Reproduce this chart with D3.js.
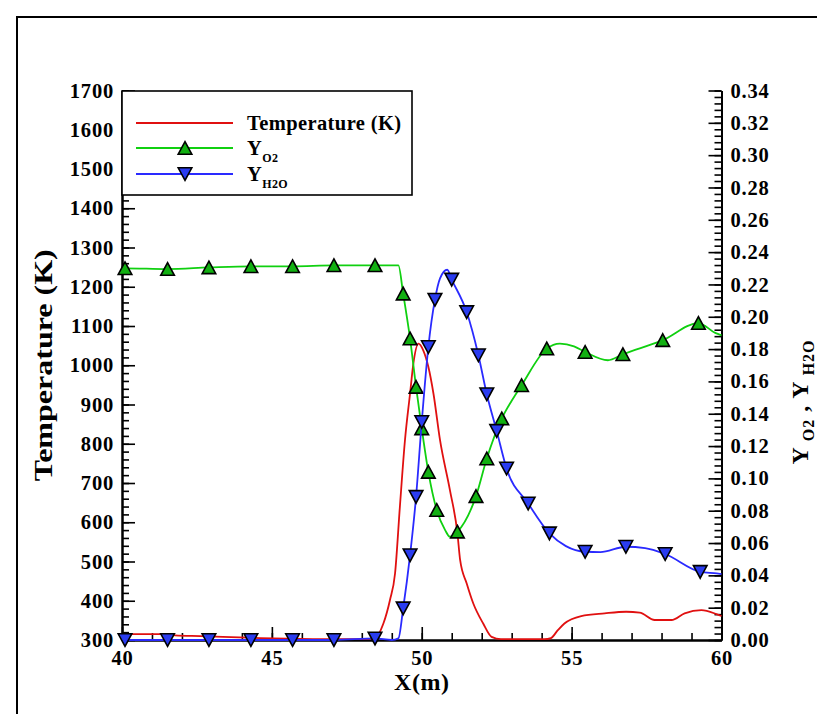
<!DOCTYPE html>
<html>
<head>
<meta charset="utf-8">
<script src="https://cdn.jsdelivr.net/npm/d3@7/dist/d3.min.js"></script>
<style>
  html, body { margin: 0; padding: 0; background: #ffffff; }
  svg { display: block; }
  text { font-family: "Liberation Serif", "Times New Roman", serif; font-weight: bold; fill: #000; }
</style>
</head>
<body>
<svg id="chart" width="817" height="714"></svg>
<script>
// ---- Temperature profile along the channel (left axis, K) ----
const tempX = [40.0, 41.27, 41.77, 42.61, 44.62, 45.95, 47.29, 48.39, 48.72, 48.94, 49.11, 49.27, 49.44, 49.61, 49.72, 49.89, 50.05, 50.22, 50.39, 50.61, 50.94, 51.19, 51.28, 51.50, 51.72, 52.05, 52.33, 52.64, 54.09, 54.31, 54.54, 54.76, 55.32, 56.10, 56.82, 57.27, 57.77, 58.33, 58.77, 59.33, 59.83, 60.0];
const tempK = [315, 315, 312, 310, 305, 303, 302, 303, 342, 402, 470, 639, 809, 928, 1004, 1055, 1038, 996, 928, 809, 682, 572, 504, 444, 393, 342, 308, 302, 302, 305, 325, 342, 361, 368, 372, 370, 351, 351, 368, 376, 366, 361];

// ---- O2 mass fraction (right axis) ----
const o2X = [40.0, 40.10, 41.52, 42.90, 44.30, 45.69, 47.07, 48.44, 49.22, 49.38, 49.61, 49.81, 50.00, 50.22, 50.50, 50.78, 50.94, 51.19, 51.81, 52.17, 52.67, 53.00, 53.33, 54.17, 54.61, 55.08, 55.45, 56.21, 56.71, 58.04, 59.23, 59.79, 60.0];
const o2Y = [0.2300, 0.2300, 0.2295, 0.2305, 0.2312, 0.2312, 0.2318, 0.2318, 0.2318, 0.2143, 0.1865, 0.1566, 0.1309, 0.1040, 0.0804, 0.0680, 0.0639, 0.0670, 0.0890, 0.1123, 0.1370, 0.1480, 0.1576, 0.1803, 0.1834, 0.1817, 0.1782, 0.1731, 0.1768, 0.1855, 0.1961, 0.1900, 0.1885];
const o2MarkX = [40.10, 41.52, 42.90, 44.30, 45.69, 47.07, 48.44, 49.38, 49.61, 49.81, 50.00, 50.22, 50.50, 51.19, 51.81, 52.17, 52.67, 53.33, 54.17, 55.45, 56.71, 58.04, 59.23];
const o2MarkY = [0.2300, 0.2295, 0.2305, 0.2312, 0.2312, 0.2318, 0.2318, 0.2143, 0.1865, 0.1566, 0.1309, 0.1040, 0.0804, 0.0670, 0.0890, 0.1123, 0.1370, 0.1576, 0.1803, 0.1782, 0.1768, 0.1855, 0.1961];

// ---- H2O mass fraction (right axis) ----
const h2oX = [40.0, 40.10, 41.52, 42.90, 44.30, 45.69, 47.07, 48.44, 49.0, 49.22, 49.38, 49.61, 49.81, 50.00, 50.22, 50.44, 50.61, 50.85, 51.00, 51.50, 51.89, 52.17, 52.50, 52.83, 53.55, 54.26, 54.81, 55.45, 55.96, 56.81, 57.45, 58.12, 59.29, 59.84, 60.0];
const h2oY = [0.0, 0.0, 0.0, 0.0, 0.0, 0.0, 0.0, 0.0010, 0.0, 0.0010, 0.0196, 0.0525, 0.0886, 0.1349, 0.1813, 0.2106, 0.2238, 0.2291, 0.2230, 0.2029, 0.1762, 0.1521, 0.1294, 0.1061, 0.0845, 0.0660, 0.0581, 0.0546, 0.0544, 0.0577, 0.0569, 0.0532, 0.0422, 0.0412, 0.0408];
const h2oMarkX = [40.10, 41.52, 42.90, 44.30, 45.69, 47.07, 48.44, 49.38, 49.61, 49.81, 50.00, 50.22, 50.44, 51.00, 51.50, 51.89, 52.17, 52.50, 52.83, 53.55, 54.26, 55.45, 56.81, 58.12, 59.29];
const h2oMarkY = [0.0, 0.0, 0.0, 0.0, 0.0, 0.0, 0.0010, 0.0196, 0.0525, 0.0886, 0.1349, 0.1813, 0.2106, 0.2230, 0.2029, 0.1762, 0.1521, 0.1294, 0.1061, 0.0845, 0.0660, 0.0546, 0.0577, 0.0532, 0.0422];

// ---- axis ticks ----
const xTicks = [40, 45, 50, 55, 60];
const xMinor = d3.range(40, 60.001, 1);
const tTicks = d3.range(300, 1700.1, 100);
const tMinor = d3.range(300, 1700.1, 20);
const yTicks = d3.range(0, 0.3401, 0.02);
const yMinor = d3.range(0, 0.3401, 0.004);

const legendLabels = ["Temperature (K)", "Y", "Y"];
const legendSubs = ["", "O2", "H2O"];

const colRed = "#e01010", colGreenLine = "#10d010", colGreenFill = "#12b012",
      colBlueLine = "#2a2aff", colBlueFill = "#2a3cf0";

const svg = d3.select("#chart");
const W = 817, H = 714;
const L = 122, R = 721.5, T = 90.5, B = 640;

svg.append("rect").attr("width", W).attr("height", H).attr("fill", "#fff");

// frame around the page, open to the right and bottom
svg.append("path")
  .attr("d", `M17,${H} L17,17 L${W},17`)
  .attr("fill", "none").attr("stroke", "#000").attr("stroke-width", 2);

const x = d3.scaleLinear().domain([40, 60]).range([L, R]);
const yT = d3.scaleLinear().domain([300, 1700]).range([B, T]);
const yY = d3.scaleLinear().domain([0, 0.34]).range([B, T]);

function styleAxis(g) {
  g.selectAll("path.domain").attr("stroke", "#000").attr("stroke-width", 2);
  g.selectAll(".tick line").attr("stroke", "#000").attr("stroke-width", 1.6);
  g.selectAll(".tick text").attr("font-family", "Liberation Serif, serif")
    .attr("font-weight", "bold").attr("font-size", 20.5).attr("letter-spacing", 0.8).attr("fill", "#000");
}

// minor ticks (drawn first, under the majors)
svg.append("g").attr("transform", `translate(0,${B})`)
  .call(d3.axisBottom(x).tickValues(xMinor).tickSize(-7).tickFormat("").tickSizeOuter(0))
  .call(styleAxis);
svg.append("g").attr("transform", `translate(${L},0)`)
  .call(d3.axisLeft(yT).tickValues(tMinor).tickSize(-7).tickFormat("").tickSizeOuter(0))
  .call(styleAxis);
svg.append("g").attr("transform", `translate(${R},0)`)
  .call(d3.axisRight(yY).tickValues(yMinor).tickSize(-7).tickFormat("").tickSizeOuter(0))
  .call(styleAxis);

// major ticks with labels
svg.append("g").attr("transform", `translate(0,${B})`)
  .call(d3.axisBottom(x).tickValues(xTicks).tickSize(-13).tickPadding(10).tickFormat(d3.format("d")).tickSizeOuter(0))
  .call(styleAxis);
svg.append("g").attr("transform", `translate(${L},0)`)
  .call(d3.axisLeft(yT).tickValues(tTicks).tickSize(-13).tickPadding(8).tickFormat(d3.format("d")).tickSizeOuter(0))
  .call(styleAxis);
svg.append("g").attr("transform", `translate(${R},0)`)
  .call(d3.axisRight(yY).tickValues(yTicks).tickSize(-13).tickPadding(9).tickFormat(d3.format(".2f")).tickSizeOuter(0))
  .call(styleAxis);

// axis titles
svg.append("text").attr("x", (L + R) / 2).attr("y", 690)
  .attr("text-anchor", "middle").attr("font-size", 24).attr("letter-spacing", 0.5).text("X(m)");
svg.append("text").attr("transform", `translate(52,${(T + B) / 2}) rotate(-90)`)
  .attr("text-anchor", "middle").attr("font-size", 25)
  .attr("textLength", 232).attr("lengthAdjust", "spacingAndGlyphs")
  .text("Temperature (K)");

const rt = svg.append("text").attr("transform", `translate(808,402) rotate(-90)`)
  .attr("text-anchor", "middle").attr("font-size", 24).attr("letter-spacing", 1);
rt.append("tspan").text("Y");
rt.append("tspan").attr("font-size", 16).attr("dy", 6).text(" O2");
rt.append("tspan").attr("dy", -6).text(" , Y");
rt.append("tspan").attr("font-size", 16).attr("dy", 6).text(" H2O");

// curves
const lineT = d3.line().x((d, i) => x(tempX[i])).y(d => yT(d)).curve(d3.curveMonotoneX);
const lineO2 = d3.line().x((d, i) => x(o2X[i])).y(d => yY(d)).curve(d3.curveMonotoneX);
const lineH2O = d3.line().x((d, i) => x(h2oX[i])).y(d => yY(d)).curve(d3.curveMonotoneX);

const plot = svg.append("g");
plot.append("path").attr("d", lineT(tempK)).attr("fill", "none")
  .attr("stroke", colRed).attr("stroke-width", 1.8);

const triUp = "M0,-6.4L6.8,6.2L-6.8,6.2Z";
const triDown = "M0,6.4L6.8,-6.2L-6.8,-6.2Z";

plot.append("path").attr("d", lineO2(o2Y)).attr("fill", "none")
  .attr("stroke", colGreenLine).attr("stroke-width", 1.8);
plot.selectAll("path.o2m").data(o2MarkY).join("path").attr("class", "o2m")
  .attr("d", triUp)
  .attr("transform", (d, i) => `translate(${x(o2MarkX[i])},${yY(d)})`)
  .attr("fill", colGreenFill).attr("stroke", "#000").attr("stroke-width", 1.6);

plot.append("path").attr("d", lineH2O(h2oY)).attr("fill", "none")
  .attr("stroke", colBlueLine).attr("stroke-width", 1.8);
plot.selectAll("path.h2om").data(h2oMarkY).join("path").attr("class", "h2om")
  .attr("d", triDown)
  .attr("transform", (d, i) => `translate(${x(h2oMarkX[i])},${yY(d)})`)
  .attr("fill", colBlueFill).attr("stroke", "#000").attr("stroke-width", 1.6);

// legend
const leg = svg.append("g");
leg.append("rect").attr("x", L).attr("y", 91).attr("width", 290).attr("height", 104)
  .attr("fill", "#fff").attr("stroke", "#000").attr("stroke-width", 1.6);
const legY = [123, 148, 174];
const legColors = [colRed, colGreenLine, colBlueLine];
legY.forEach((yy, i) => {
  leg.append("line").attr("x1", 136).attr("x2", 233).attr("y1", yy).attr("y2", yy)
    .attr("stroke", legColors[i]).attr("stroke-width", 1.8);
  if (i === 1) leg.append("path").attr("d", triUp).attr("transform", `translate(185,${yy})`)
    .attr("fill", colGreenFill).attr("stroke", "#000").attr("stroke-width", 1.6);
  if (i === 2) leg.append("path").attr("d", triDown).attr("transform", `translate(185,${yy})`)
    .attr("fill", colBlueFill).attr("stroke", "#000").attr("stroke-width", 1.6);
  const t = leg.append("text").attr("x", 247).attr("y", yy + 7).attr("font-size", 20.5).attr("letter-spacing", 0.4);
  t.append("tspan").text(legendLabels[i]);
  if (legendSubs[i]) t.append("tspan").attr("font-size", 12).attr("dy", 7).text(legendSubs[i]);
});
</script>
</body>
</html>
